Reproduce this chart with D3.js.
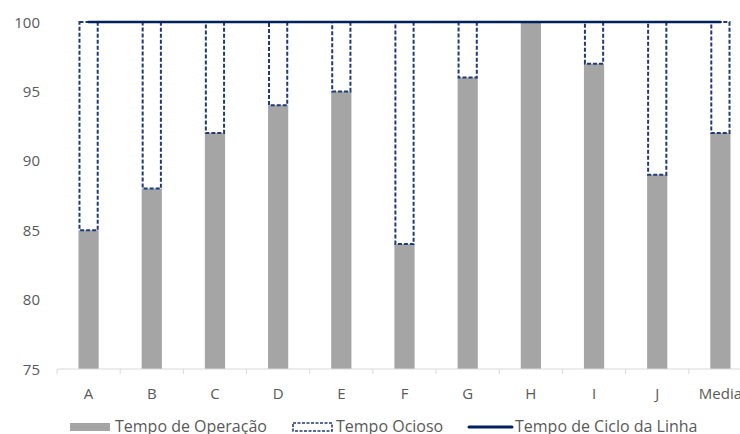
<!DOCTYPE html>
<html>
<head>
<meta charset="utf-8">
<script src="https://cdn.jsdelivr.net/npm/d3@7"></script>
<style>
  html, body { margin: 0; padding: 0; background: #fff; overflow: hidden; }
  svg { display: block; font-family: "Open Sans", "Liberation Sans", sans-serif; }
</style>
</head>
<body>
<svg id="chart" width="740" height="434"></svg>
<script>
// Line stations and their times
const categories = ["A", "B", "C", "D", "E", "F", "G", "H", "I", "J", "Media"];
const operacao = [85, 88, 92, 94, 95, 84, 96, 100, 97, 89, 92];
const ciclo = [100, 100, 100, 100, 100, 100, 100, 100, 100, 100, 100];
const yTicks = [75, 80, 85, 90, 95, 100];
const seriesNames = ["Tempo de Operação", "Tempo Ocioso", "Tempo de Ciclo da Linha"];

const svg = d3.select("#chart");
const textColor = "#595959";
const barColor = "#a5a5a5";
const idleColor = "#1f3a78";
const lineColor = "#002060";

const x = d3.scaleBand().domain(categories).range([57, 752]).paddingInner(0.68).paddingOuter(0.34);
const y = d3.scaleLinear().domain([75, 100]).range([369, 22]);

// Operating time bars
svg.append("g").selectAll("rect")
  .data(categories)
  .join("rect")
  .attr("x", d => x(d))
  .attr("width", x.bandwidth())
  .attr("y", (d, i) => y(operacao[i]))
  .attr("height", (d, i) => y(75) - y(operacao[i]))
  .attr("fill", barColor);

// Idle time: dashed outline from operating time up to the cycle time
svg.append("g").selectAll("rect")
  .data(categories.filter((d, i) => ciclo[i] - operacao[i] > 0))
  .join("rect")
  .attr("x", d => x(d) + 1)
  .attr("width", x.bandwidth() - 2)
  .attr("y", d => y(ciclo[categories.indexOf(d)]))
  .attr("height", d => { const i = categories.indexOf(d); return y(operacao[i]) - y(ciclo[i]); })
  .attr("fill", "none")
  .attr("stroke", idleColor)
  .attr("stroke-width", 2)
  .attr("stroke-dasharray", "4,2");

// X axis
const xAxis = svg.append("g").attr("transform", `translate(0,${y(75)})`);
xAxis.append("line").attr("x1", 57).attr("x2", 752).attr("stroke", "#d9d9d9").attr("stroke-width", 1);
xAxis.selectAll("line.tick")
  .data(d3.range(categories.length + 1))
  .join("line")
  .attr("class", "tick")
  .attr("x1", i => 57 + i * x.step()).attr("x2", i => 57 + i * x.step())
  .attr("y1", 0).attr("y2", 5)
  .attr("stroke", "#d9d9d9");
xAxis.selectAll("text")
  .data(categories)
  .join("text")
  .attr("x", d => x(d) + x.bandwidth() / 2)
  .attr("y", 30)
  .attr("text-anchor", "middle")
  .attr("fill", textColor)
  .attr("font-size", 15)
  .text(d => d);

// Y axis labels
svg.append("g").selectAll("text")
  .data(yTicks)
  .join("text")
  .attr("x", 40)
  .attr("y", d => y(d) + 5.5)
  .attr("text-anchor", "end")
  .attr("fill", textColor)
  .attr("font-size", 15)
  .text(d => d);

// Cycle time line
const line = d3.line()
  .x((d, i) => x(categories[i]) + x.bandwidth() / 2)
  .y(d => y(d));
svg.append("path")
  .datum(ciclo)
  .attr("d", line)
  .attr("fill", "none")
  .attr("stroke", lineColor)
  .attr("stroke-width", 2.5)
  .attr("stroke-linecap", "round");

// Legend
const lg = svg.append("g").attr("font-size", 16).attr("fill", textColor);
lg.append("rect").attr("x", 70).attr("y", 423).attr("width", 40).attr("height", 8).attr("fill", barColor);
lg.append("text").attr("x", 115).attr("y", 432).text(seriesNames[0]);
lg.append("rect").attr("x", 293).attr("y", 423).attr("width", 39).attr("height", 8)
  .attr("fill", "none").attr("stroke", idleColor).attr("stroke-width", 1.6).attr("stroke-dasharray", "3,1.5");
lg.append("text").attr("x", 336).attr("y", 432).text(seriesNames[1]);
lg.append("line").attr("x1", 469).attr("x2", 512).attr("y1", 427).attr("y2", 427)
  .attr("stroke", lineColor).attr("stroke-width", 3).attr("stroke-linecap", "round");
lg.append("text").attr("x", 515).attr("y", 432).text(seriesNames[2]);
</script>
</body>
</html>
